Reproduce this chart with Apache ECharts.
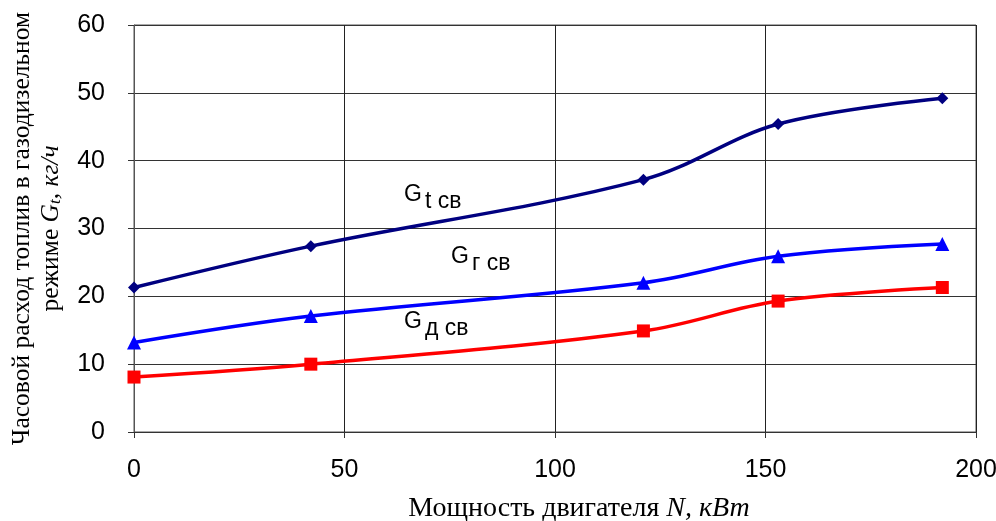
<!DOCTYPE html>
<html><head><meta charset="utf-8">
<script src="https://cdn.jsdelivr.net/npm/echarts@6/dist/echarts.min.js"></script>
<style>html,body{margin:0;padding:0;background:#fff}#c{width:996px;height:521px}</style>
</head><body><div id="c"></div>
<script>
const power = [0, 42, 121, 153, 192];
const gT = [21.3, 27.4, 37.2, 45.4, 49.2];
const gG = [13.2, 17.1, 22.0, 25.9, 27.7];
const gD = [8.1, 10.0, 14.9, 19.3, 21.3];
const xTicks = [0, 50, 100, 150, 200];
const yTicks = [0, 10, 20, 30, 40, 50, 60];

const pairs = (ys) => power.map((x, i) => [x, ys[i]]);
const chart = echarts.init(document.getElementById('c'));
const labelRich = {
  g: {fontFamily: 'Liberation Sans', fontSize: 23, color: '#000', verticalAlign: 'bottom', padding: [0, 0, 7, 0]},
  s: {fontFamily: 'Liberation Sans', fontSize: 23, color: '#000', verticalAlign: 'bottom', padding: [0, 0, 0, 3]}
};
chart.setOption({
  animation: false,
  grid: {left: 134, right: 20, top: 25, bottom: 89, show: true, borderColor: '#555', borderWidth: 1,
    containLabel: false, outerBoundsMode: 'none'},
  xAxis: {
    type: 'value', min: 0, max: 200, interval: 50,
    axisLine: {show: true, onZero: false, lineStyle: {color: '#333', width: 1}},
    axisTick: {show: true, length: 6, lineStyle: {color: '#333'}},
    splitLine: {show: true, lineStyle: {color: '#222', width: 1}},
    axisLabel: {fontFamily: 'Liberation Sans', fontSize: 25, color: '#000', margin: 26,
      formatter: v => xTicks.includes(v) ? String(v) : ''},
    name: '{a|Мощность двигателя }{b|N, кВт}',
    nameLocation: 'middle', nameGap: 63,
    nameTextStyle: {padding: [0, 0, 0, 48], rich: {
      a: {fontFamily: 'Liberation Serif', fontSize: 28, color: '#000'},
      b: {fontFamily: 'Liberation Serif', fontSize: 28, fontStyle: 'italic', color: '#000'}
    }}
  },
  yAxis: {
    type: 'value', min: 0, max: 60, interval: 10,
    axisLine: {show: true, lineStyle: {color: '#555', width: 1}},
    axisTick: {show: true, length: 6, lineStyle: {color: '#333'}},
    splitLine: {show: true, lineStyle: {color: '#333', width: 1}},
    axisLabel: {fontFamily: 'Liberation Sans', fontSize: 25, color: '#000', margin: 29,
      formatter: v => yTicks.includes(v) ? String(v) : ''},
    name: '{a|Часовой расход топлив в газодизельном}\n{a|режиме }{b|G}{c|t}{b|, кг/ч}',
    nameLocation: 'middle', nameGap: 68, nameRotate: 90,
    nameTextStyle: {align: 'center', lineHeight: 29, rich: {
      a: {fontFamily: 'Liberation Serif', fontSize: 25.5, color: '#000', lineHeight: 29},
      b: {fontFamily: 'Liberation Serif', fontSize: 25.5, fontStyle: 'italic', color: '#000', lineHeight: 29},
      c: {fontFamily: 'Liberation Serif', fontSize: 17, fontStyle: 'italic', color: '#000', padding: [8, 0, 0, 0], lineHeight: 29}
    }}
  },
  series: [
    {type: 'line', name: 'Gt', data: pairs(gT), smooth: 0.35, symbol: 'diamond', symbolSize: 12,
      lineStyle: {color: '#000080', width: 3.5}, itemStyle: {color: '#000080'}},
    {type: 'line', name: 'Gg', data: pairs(gG), smooth: 0.35, symbol: 'triangle', symbolSize: 14,
      lineStyle: {color: '#0000FF', width: 3.5}, itemStyle: {color: '#0000FF'}},
    {type: 'line', name: 'Gd', data: pairs(gD), smooth: 0.35, symbol: 'rect', symbolSize: 13,
      lineStyle: {color: '#FF0000', width: 3.5}, itemStyle: {color: '#FF0000'}}
  ],
  graphic: [
    {type: 'text', left: 404, top: 183, style: {text: '{g|G}{s|t св}', rich: labelRich}},
    {type: 'text', left: 451, top: 245, style: {text: '{g|G}{s|г св}', rich: labelRich}},
    {type: 'text', left: 404, top: 310, style: {text: '{g|G}{s|д св}', rich: labelRich}}
  ]
});
</script></body></html>
